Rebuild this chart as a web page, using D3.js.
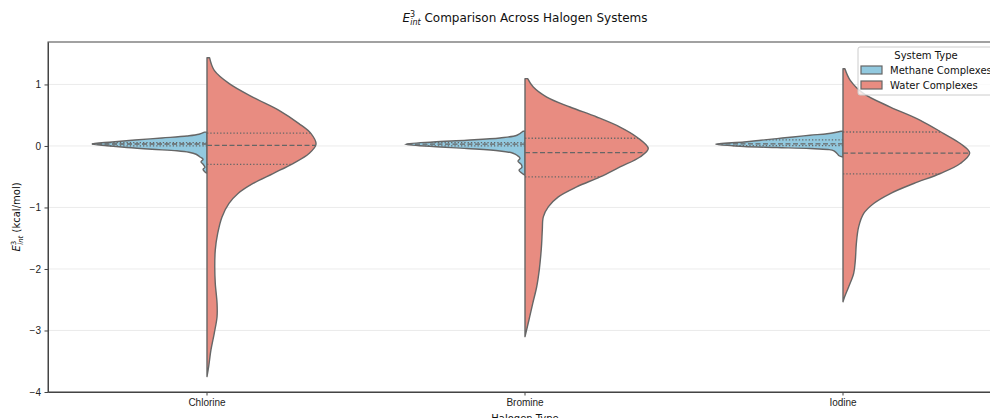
<!DOCTYPE html>
<html>
<head>
<meta charset="utf-8">
<script src="https://cdn.jsdelivr.net/npm/d3@7"></script>
<style>
  body { margin: 0; background: #fff; }
  svg { font-family: "DejaVu Sans", sans-serif; }
  .grid line { stroke: #e6e6e6; stroke-width: 0.8; }
  .axis text { font-size: 10px; fill: #222; }
  .axis path, .axis line { stroke: #444; }
</style>
</head>
<body>
<svg width="990" height="418"></svg>
<script>
// categories and series
var categories = ["Chlorine", "Bromine", "Iodine"];
var seriesNames = ["Methane Complexes", "Water Complexes"];
var seriesColors = ["#92c9df", "#e88c81"];
var yTicks = [-4, -3, -2, -1, 0, 1];

// density profiles: [E_int value, relative density]
var chlorineMethane = [[0.225,0.02],[0.19,0.063],[0.162,0.157],[0.13,0.354],[0.097,0.566],[0.065,0.747],[0.032,0.904],
  [0.003,0.786],[-0.026,0.629],[-0.054,0.432],[-0.078,0.236],[-0.102,0.142],[-0.135,0.086],[-0.179,0.055],[-0.216,0.031],
  [-0.26,0.047],[-0.297,0.031],[-0.346,0.016],[-0.378,0.031],[-0.422,0.016],[-0.443,0]];
var chlorineWater = [[1.435,0.02],[1.229,0.057],[1.013,0.175],[0.795,0.359],[0.58,0.566],[0.364,0.723],[0.201,0.818],
  [0.028,0.857],[-0.123,0.802],[-0.286,0.676],[-0.448,0.519],[-0.61,0.362],[-0.773,0.244],[-0.935,0.173],[-1.153,0.118],
  [-1.422,0.084],[-1.693,0.065],[-1.964,0.061],[-2.234,0.065],[-2.558,0.079],[-2.776,0.079],[-3.045,0.057],[-3.317,0.031],
  [-3.588,0.013],[-3.75,0]];
var bromineMethane = [[0.239,0.016],[0.174,0.063],[0.13,0.197],[0.093,0.456],[0.065,0.723],[0.028,0.943],[-0.01,0.723],
  [-0.042,0.456],[-0.081,0.197],[-0.118,0.094],[-0.151,0.063],[-0.2,0.039],[-0.248,0.055],[-0.297,0.031],[-0.346,0.024],
  [-0.394,0.047],[-0.443,0.024],[-0.476,0]];
var bromineWater = [[1.094,0.021],[0.958,0.065],[0.795,0.171],[0.633,0.354],[0.471,0.564],[0.308,0.747],[0.146,0.878],
  [-0.042,0.969],[-0.179,0.904],[-0.341,0.747],[-0.503,0.59],[-0.666,0.406],[-0.828,0.262],[-0.99,0.183],[-1.153,0.144],
  [-1.368,0.136],[-1.584,0.131],[-1.802,0.123],[-2.018,0.112],[-2.289,0.092],[-2.558,0.061],[-2.829,0.031],[-3.1,0]];
var iodineMethane = [[0.239,0.016],[0.218,0.063],[0.198,0.126],[0.174,0.259],[0.146,0.393],[0.12,0.519],[0.093,0.645],
  [0.065,0.778],[0.028,1.0],[0.003,0.865],[-0.01,0.778],[-0.026,0.519],[-0.042,0.259],[-0.058,0.118],[-0.078,0.071],
  [-0.123,0.047],[-0.159,0.031],[-0.179,0]];
var iodineWater = [[1.256,0.015],[1.067,0.057],[0.851,0.163],[0.633,0.372],[0.417,0.608],[0.201,0.792],[0.039,0.922],
  [-0.114,0.996],[-0.286,0.922],[-0.448,0.765],[-0.61,0.556],[-0.773,0.372],[-0.935,0.241],[-1.097,0.163],[-1.315,0.123],
  [-1.584,0.105],[-1.856,0.097],[-2.071,0.084],[-2.289,0.045],[-2.451,0.013],[-2.532,0]];

// quartiles [q1, median, q3] per category
var methaneQuartiles = [[0.0, 0.032, 0.055], [0.0, 0.03, 0.055], [0.005, 0.035, 0.1]];
var waterQuartiles = [[-0.3, 0.01, 0.21], [-0.503, -0.107, 0.125], [-0.455, -0.118, 0.227]];

var profiles = [
  [chlorineMethane, chlorineWater],
  [bromineMethane, bromineWater],
  [iodineMethane, iodineWater]
];

var svg = d3.select("svg"),
    margin = {top: 42, left: 48},
    width = 954,
    height = 350;

var x = d3.scaleBand().domain(categories).range([0, width]).padding(0);
var y = d3.scaleLinear().domain([-4, 1.69]).range([height, 0]);
var w = d3.scaleLinear().domain([0, 1]).range([0, x.bandwidth() * 0.4]);

var g = svg.append("g")
    .attr("transform", "translate(" + margin.left + "," + margin.top + ")");

// grid
g.append("g").attr("class", "grid")
  .selectAll("line").data(yTicks).enter().append("line")
    .attr("x1", 0).attr("x2", width)
    .attr("y1", function(d){return y(d);})
    .attr("y2", function(d){return y(d);});

function densityAt(profile, v) {
  for (var i = 0; i < profile.length - 1; i++) {
    var a = profile[i], b = profile[i+1];
    if (v <= a[0] && v >= b[0]) {
      var t = (a[0] - v) / (a[0] - b[0]);
      return a[1] + t * (b[1] - a[1]);
    }
  }
  return 0;
}

categories.forEach(function(cat, ci) {
  var cx = x(cat) + x.bandwidth() / 2;
  [0, 1].forEach(function(si) {
    var prof = profiles[ci][si];
    var sign = si === 0 ? -1 : 1;
    var area = d3.area()
      .y(function(d){return y(d[0]);})
      .x0(cx)
      .x1(function(d){return cx + sign * w(d[1]);})
      .curve(d3.curveCatmullRom.alpha(0.5));
    g.append("path")
      .attr("d", area(prof))
      .attr("fill", seriesColors[si])
      .attr("stroke", "#666")
      .attr("stroke-width", 1.4)
      .attr("stroke-linejoin", "round");

    var qs = si === 0 ? methaneQuartiles[ci] : waterQuartiles[ci];
    qs.forEach(function(q, qi) {
      g.append("line")
        .attr("x1", cx)
        .attr("x2", cx + sign * w(densityAt(prof, q)))
        .attr("y1", y(q)).attr("y2", y(q))
        .attr("stroke", "#666")
        .attr("stroke-width", 1.3)
        .attr("stroke-dasharray", qi === 1 ? "5,2.5" : "1.3,2");
    });
  });
});

// axes
g.append("g").attr("class", "axis")
  .attr("transform", "translate(0," + height + ")")
  .call(d3.axisBottom(x).tickSize(3.5).tickPadding(3.5).tickSizeOuter(0));

g.append("g").attr("class", "axis")
  .call(d3.axisLeft(y).tickValues(yTicks).tickSize(3.5).tickPadding(3.5).tickSizeOuter(0)
    .tickFormat(function(d){return d < 0 ? "\u2212" + Math.abs(d) : d;}));

g.append("rect")
  .attr("x", 0).attr("y", 0).attr("width", width).attr("height", height)
  .attr("fill", "none").attr("stroke", "#444").attr("stroke-width", 1);

// title
var title = svg.append("text")
  .attr("x", margin.left + width / 2).attr("y", 22)
  .attr("text-anchor", "middle").attr("font-size", 12).attr("fill", "#111");
title.append("tspan").attr("font-style", "italic").text("E");
title.append("tspan").attr("font-size", 8).attr("dy", -5).text("3");
title.append("tspan").attr("font-size", 8).attr("font-style", "italic").attr("dx", -5).attr("dy", 8).text("int");
title.append("tspan").attr("dy", -3).text(" Comparison Across Halogen Systems");

// y label
var ylab = svg.append("text")
  .attr("transform", "translate(20," + (margin.top + height / 2) + ") rotate(-90)")
  .attr("text-anchor", "middle").attr("font-size", 10).attr("fill", "#111");
ylab.append("tspan").attr("font-style", "italic").text("E");
ylab.append("tspan").attr("font-size", 7).attr("dy", -4).text("3");
ylab.append("tspan").attr("font-size", 7).attr("font-style", "italic").attr("dx", -4).attr("dy", 7).text("int");
ylab.append("tspan").attr("dy", -3).text(" (kcal/mol)");

// x label
svg.append("text")
  .attr("x", margin.left + width / 2).attr("y", 422)
  .attr("text-anchor", "middle").attr("font-size", 10).attr("fill", "#111")
  .text("Halogen Type");

// legend
var lg = svg.append("g").attr("transform", "translate(858,47)");
lg.append("rect")
  .attr("width", 150).attr("height", 48).attr("rx", 2)
  .attr("fill", "#fff").attr("fill-opacity", 0.8)
  .attr("stroke", "#ccc");
lg.append("text").attr("x", 68).attr("y", 12)
  .attr("text-anchor", "middle").attr("font-size", 10).attr("fill", "#111")
  .text("System Type");
seriesNames.forEach(function(name, i) {
  lg.append("rect")
    .attr("x", 3).attr("y", 19 + i * 15).attr("width", 21).attr("height", 8)
    .attr("fill", seriesColors[i]).attr("stroke", "#666").attr("stroke-width", 1.2);
  lg.append("text")
    .attr("x", 32).attr("y", 27 + i * 15)
    .attr("font-size", 10).attr("fill", "#111")
    .text(name);
});
</script>
</body>
</html>
